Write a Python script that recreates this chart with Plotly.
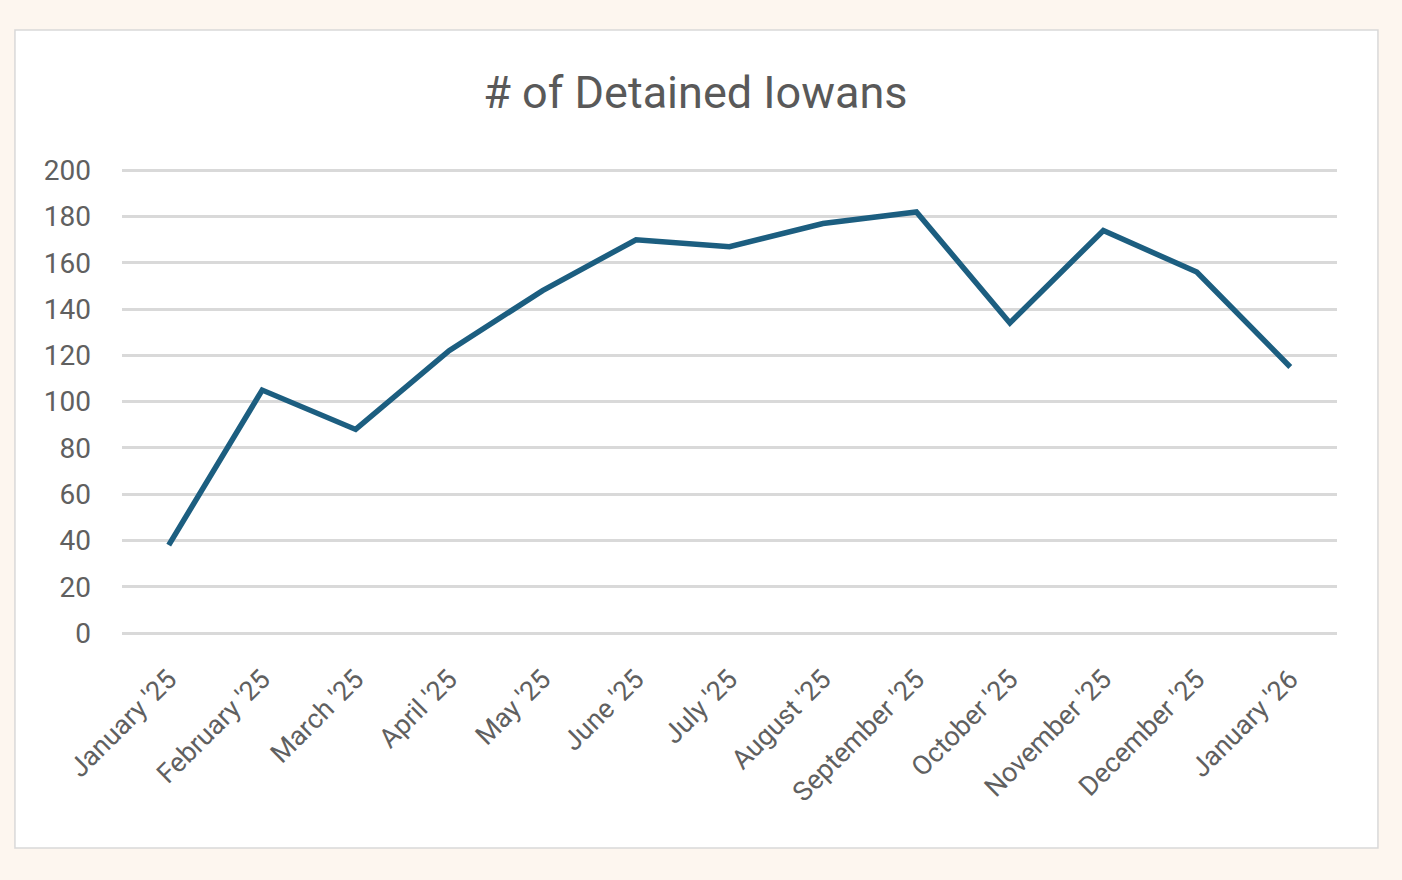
import plotly.graph_objects as go

# Data
months = ["January '25", "February '25", "March '25", "April '25", "May '25",
          "June '25", "July '25", "August '25", "September '25", "October '25",
          "November '25", "December '25", "January '26"]
detained = [38, 105, 88, 122, 148, 170, 167, 177, 182, 134, 174, 156, 115]
y_ticks = [0, 20, 40, 60, 80, 100, 120, 140, 160, 180, 200]

fig = go.Figure()

fig.add_trace(go.Scatter(
    x=months,
    y=detained,
    mode="lines",
    line=dict(color="#1C5E80", width=5.5),
    hoverinfo="x+y",
))

# white chart card on the cream page
fig.add_shape(
    type="rect", xref="paper", yref="paper",
    x0=-0.0881, x1=1.0337, y0=-0.4624, y1=1.2968,
    fillcolor="white", line=dict(color="#D9D9D9", width=1.5),
    layer="below",
)

fig.update_layout(
    width=1402,
    height=880,
    paper_bgcolor="#FDF6EF",
    plot_bgcolor="white",
    margin=dict(l=122, r=65, t=168, b=247),
    showlegend=False,
    font=dict(family="Roboto, Open Sans, sans-serif", color="#595959"),
    title=dict(
        text="# of Detained Iowans",
        x=0.496, xanchor="center",
        y=0.895, yanchor="middle",
        font=dict(size=45, color="#595959"),
    ),
)

fig.update_xaxes(
    type="category",
    range=[-0.5, len(months) - 0.5],
    tickangle=-45,
    tickfont=dict(size=27, color="#606060"),
    showgrid=False,
    showline=False,
    ticks="",
    zeroline=False,
    ticklabelstandoff=24,
)

fig.update_yaxes(
    range=[0, 201],
    tickvals=y_ticks,
    tickfont=dict(size=28, color="#606060"),
    showgrid=True,
    gridcolor="#D9D9D9",
    gridwidth=2.5,
    zeroline=True,
    zerolinecolor="#D9D9D9",
    zerolinewidth=2.5,
    ticks="",
    ticklabelstandoff=30,
)

fig.write_html(
    "out.html",
    config={"displayModeBar": False},
    post_script="document.body.style.margin='0';document.body.style.background='#FDF6EF';",
)
